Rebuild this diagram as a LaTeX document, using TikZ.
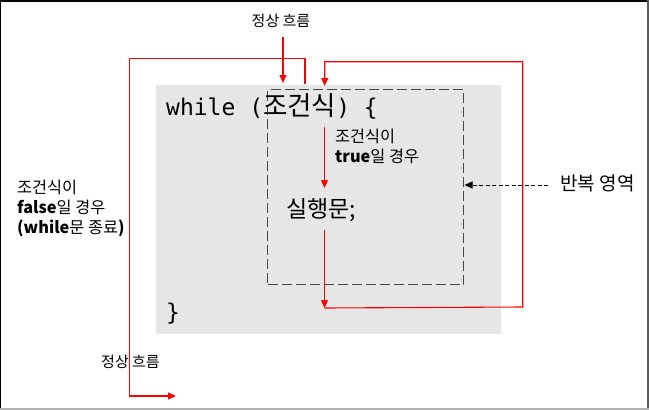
\documentclass[tikz,border=0pt]{standalone}
\usepackage{fontspec}
\setmainfont{Noto Sans CJK KR}
\setmonofont{DejaVu Sans Mono}
\newfontfamily\krfont{Noto Sans CJK KR}
\usetikzlibrary{arrows.meta}
\definecolor{codegray}{HTML}{E6E6E6}
\definecolor{flowred}{HTML}{FF0000}
\begin{document}
\begin{tikzpicture}[x=1pt,y=-1pt,
  flow/.style={draw=flowred,line width=1.1pt},
  flowarrow/.style={flow,-{Triangle[length=8pt,width=7pt]}},
  lbl/.style={inner sep=0pt,font=\fontsize{16.3}{19.8}\selectfont,align=left},
  small/.style={inner sep=0pt,font=\fontsize{15}{17}\selectfont}]
\useasboundingbox (0,0) rectangle (649,410);
\fill[white] (0,0) rectangle (649,410);
% frame
\draw[black,line width=1.5pt] (0,409) -- (0,0.75) -- (649,0.75);
\draw[gray!70!black,line width=2pt] (648,0) -- (648,410);
\draw[gray!60,line width=1.5pt] (0,409.2) -- (649,409.2);
% code box
\node[fill=codegray,inner sep=0pt,minimum width=345pt,minimum height=249pt,anchor=north west] (code) at (156,85) {};
\node[draw=black!72,dash pattern=on 10pt off 4pt,line width=1.4pt,inner sep=0pt,minimum width=196pt,minimum height=195pt,anchor=north west] (loop) at (267,89) {};
\node[anchor=base west,inner sep=0pt,font=\ttfamily\fontsize{23}{28}\selectfont] (whl) at (166,115) {while ({\krfont\fontsize{26.5}{30}\selectfont 조건식}) \{};
\node[anchor=base west,inner sep=0pt,font=\ttfamily\fontsize{23}{28}\selectfont] (brace) at (166,320) {\}};
\node[anchor=base west,inner sep=0pt,font=\fontsize{23}{26}\selectfont] (stmt) at (286,217.5) {실행문;};
% labels
\node[small] (topflow) at (281,21) {정상 흐름};
\node[small] (botflow) at (130.5,362) {정상 흐름};
\node[lbl,anchor=north west] (truelbl) at (335,129) {조건식이\\\textbf{true}일 경우};
\node[lbl,anchor=north west] (falselbl) at (17,180) {조건식이\\\textbf{false}일 경우\\\textbf{(while}문 종료\textbf{)}};
\node[inner sep=0pt,font=\fontsize{19}{22}\selectfont] (rep) at (597.5,183) {반복 영역};
% coordinates
\coordinate (a1) at (283,37);
\coordinate (a2) at (283,83);
\coordinate (l0) at (305,84);
\coordinate (l1) at (305,58.7);
\coordinate (l2) at (129.3,58.7);
\coordinate (l3) at (129.3,396);
\coordinate (l4) at (176,396);
\coordinate (m0) at (324.5,127);
\coordinate (m1) at (324.5,188);
\coordinate (s0) at (324.5,230);
\coordinate (s1) at (324.5,308);
\coordinate (r1) at (522.7,307);
\coordinate (r2) at (522.7,61.7);
\coordinate (r3) at (324.7,61.7);
\coordinate (r4) at (324.7,86);
\coordinate (d0) at (548,185);
\coordinate (d1) at (464.5,185);
% arrows
\draw[flowarrow] (a1) -- (a2);
\draw[flowarrow] (l0) -- (l1) -- (l2) -- (l3) -- (l4);
\draw[flowarrow] (m0) -- (m1);
\draw[flowarrow] (s0) -- (s1);
\draw[flowarrow] (s1) -- (r1) -- (r2) -- (r3) -- (r4);
\draw[black,line width=1pt,dash pattern=on 4pt off 2.5pt,-{Triangle[length=8pt,width=7pt]}] (d0) -- (d1);
\end{tikzpicture}
\end{document}
